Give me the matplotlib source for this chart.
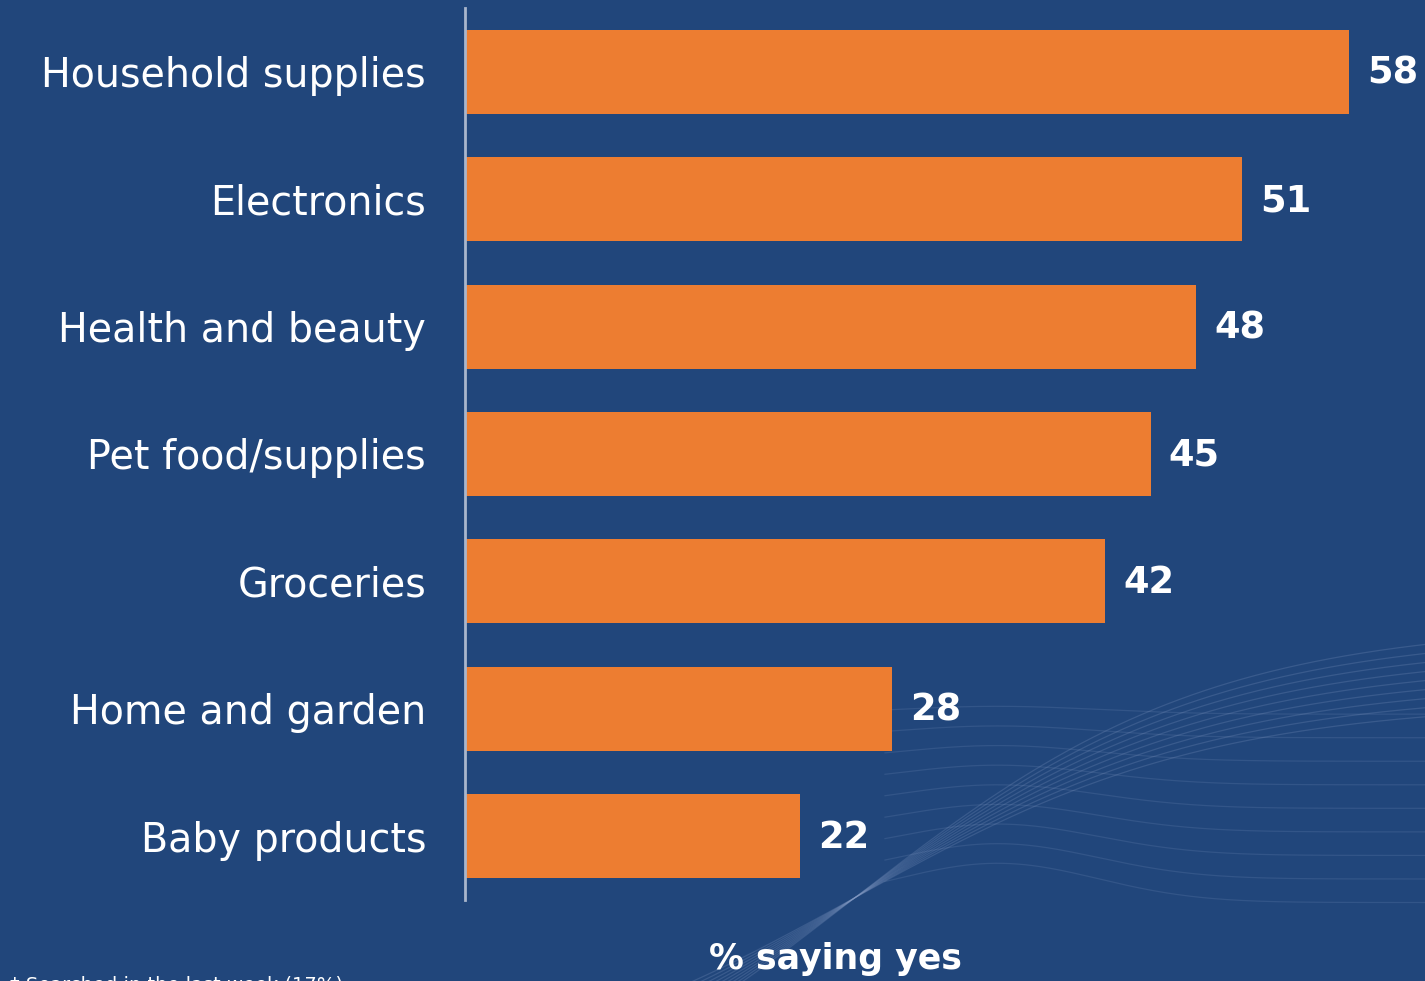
import matplotlib.pyplot as plt
import numpy as np

categories = ["Household supplies", "Electronics", "Health and beauty", "Pet food/supplies",
              "Groceries", "Home and garden", "Baby products"]
values = [58, 51, 48, 45, 42, 28, 22]

bg = "#21467B"
orange = "#ED7D31"

fig = plt.figure(figsize=(14.25, 9.81), dpi=100, facecolor=bg)

# faint decorative waves in the background (bottom right)
deco = fig.add_axes([0, 0, 1, 1], zorder=0)
deco.set_xlim(0, 1)
deco.set_ylim(0, 1)
deco.axis("off")
deco.set_facecolor("none")
t = np.linspace(0.3, 1.0, 400)
for k in range(9):
    # rising fan
    y1 = 0.085 + (0.2 + 0.01 * k) * np.tanh((t - 0.6) * 4)
    deco.plot(t, y1, color="#8FA4CC", lw=0.9, alpha=0.22)
    # near-horizontal lines on the right
    m = t > 0.62
    y2 = 0.08 + 0.024 * k + 0.04 * np.exp(-((t - 0.7) / 0.1) ** 2) * (1 - 0.1 * k)
    deco.plot(t[m], y2[m], color="#8FA4CC", lw=0.9, alpha=0.16)

ax = fig.add_axes([465 / 1425, 81 / 981, 960 / 1425, 892 / 981], zorder=1)
ax.set_facecolor("none")
y = np.arange(len(categories))
ax.barh(y, values, height=0.66, color=orange, zorder=2)
ax.set_ylim(6.5, -0.5)
ax.set_xlim(0, 63)

for s in ["top", "right", "bottom"]:
    ax.spines[s].set_visible(False)
ax.spines["left"].set_color("#A9B6CC")
ax.spines["left"].set_linewidth(2)
ax.set_xticks([])
ax.set_yticks(y)
ax.set_yticklabels(categories, fontsize=28.5, color="white", family="DejaVu Sans")
ax.tick_params(axis="y", length=0, pad=28)

for yi, v in zip(y, values):
    ax.annotate(str(v), (v, yi), xytext=(13, -1), textcoords="offset points",
                va="center", ha="left", fontsize=26.5, fontweight="bold",
                color="white", family="DejaVu Sans")

fig.text(835 / 1425, 22 / 981, "% saying yes", ha="center", va="center",
         fontsize=25, fontweight="bold", color="white", family="DejaVu Sans")
fig.text(10 / 1425, -4 / 981, "† Searched in the last week (17%)", ha="left", va="center",
         fontsize=14, color="white", family="DejaVu Sans")

fig.savefig("out.png", dpi=100, facecolor=bg)
